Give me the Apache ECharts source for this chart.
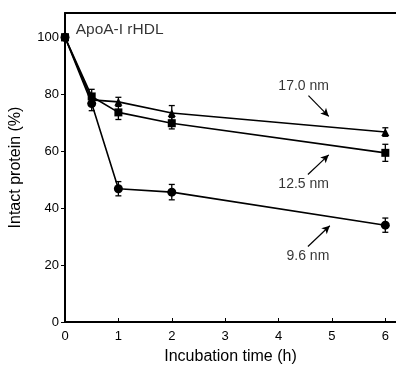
<!DOCTYPE html>
<html><head><meta charset="utf-8">
<script src="https://cdn.jsdelivr.net/npm/echarts@6/dist/echarts.min.js"></script>
<style>html,body{margin:0;padding:0;background:#fff}#c{width:396px;height:370px}</style>
</head><body><div id="c"></div>
<script>
const times = [0, 0.5, 1, 2, 6];
const nm96 = [100, 76.7, 46.8, 45.6, 34.0];
const nm96Err = [0, 2.5, 2.5, 2.7, 2.5];
const nm125 = [100, 79.2, 73.6, 69.8, 59.4];
const nm125Err = [0, 2.5, 2.5, 2.0, 3.0];
const nm170 = [100, 78.0, 77.3, 73.4, 66.7];
const nm170Err = [0, 2.0, 1.6, 2.6, 1.5];
const xTicks = [0, 1, 2, 3, 4, 5, 6];
const yTicks = [0, 20, 40, 60, 80, 100];
const labelTexts = ['17.0 nm', '12.5 nm', '9.6 nm'];
const labelPos = [[4.47, 82.9], [4.47, 48.3], [4.55, 23.1]];
const arrowFrom = [[4.56, 79.5], [4.55, 51.8], [4.55, 26.5]];
const arrowTo = [[4.94, 72.2], [4.94, 58.7], [4.96, 33.8]];
const titleText = 'ApoA-I rHDL';
const titlePos = [0.2, 102.6];

const FONT = '"Liberation Sans", Arial, sans-serif';
function pts(ys) { return times.map((t, i) => [t, ys[i]]); }
function errData(ys, es) { return times.map((t, i) => [t, ys[i] - es[i], ys[i] + es[i]]).filter((d, i) => es[i] > 0); }
function errSeries(ys, es) {
  return {
    type: 'custom', data: errData(ys, es), z: 3,
    renderItem: function (params, api) {
      const lo = api.coord([api.value(0), api.value(1)]);
      const hi = api.coord([api.value(0), api.value(2)]);
      const w = 3;
      const st = { stroke: '#000', lineWidth: 1.3 };
      return { type: 'group', children: [
        { type: 'line', shape: { x1: lo[0], y1: lo[1], x2: hi[0], y2: hi[1] }, style: st },
        { type: 'line', shape: { x1: lo[0] - w, y1: lo[1], x2: lo[0] + w, y2: lo[1] }, style: st },
        { type: 'line', shape: { x1: hi[0] - w, y1: hi[1], x2: hi[0] + w, y2: hi[1] }, style: st }
      ] };
    }
  };
}
function lineSeries(ys, sym, size) {
  return { type: 'line', data: pts(ys), symbol: sym, symbolSize: size, showSymbol: true,
    lineStyle: { color: '#000', width: 1.6 }, itemStyle: { color: '#000' }, z: 4, animation: false };
}
const chart = echarts.init(document.getElementById('c'), null, { renderer: 'canvas' });
const axisLab = { color: '#000', fontFamily: FONT, fontSize: 13 };
chart.setOption({
  animation: false,
  grid: { left: 63, right: 0, top: 13, bottom: 43, containLabel: false },
  xAxis: [{
    type: 'value', min: 0, max: 6.2, interval: 1,
    axisLine: { lineStyle: { color: '#000', width: 2 } },
    axisTick: { inside: true, length: 4, lineStyle: { color: '#000', width: 1 } },
    axisLabel: Object.assign({ margin: 8, showMaxLabel: false,
      formatter: v => xTicks.includes(v) ? String(v) : '' }, axisLab),
    splitLine: { show: false },
    name: 'Incubation time (h)', nameLocation: 'middle', nameGap: 27,
    nameTextStyle: { color: '#000', fontFamily: FONT, fontSize: 16 }
  }, {
    type: 'value', position: 'top', min: 0, max: 6.2,
    axisLine: { show: true, onZero: false, lineStyle: { color: '#000', width: 2 } },
    axisTick: { show: false }, axisLabel: { show: false }, splitLine: { show: false }
  }],
  yAxis: {
    type: 'value', min: 0, max: 108.5, interval: 20,
    axisLine: { show: true, lineStyle: { color: '#000', width: 2 } },
    axisTick: { inside: false, length: 4, lineStyle: { color: '#000', width: 1 } },
    axisLabel: Object.assign({ margin: 6, showMaxLabel: false,
      formatter: v => yTicks.includes(v) ? String(v) : '' }, axisLab),
    splitLine: { show: false },
    name: 'Intact protein (%)', nameLocation: 'middle', nameGap: 41,
    nameTextStyle: { color: '#000', fontFamily: FONT, fontSize: 16 }
  },
  series: [
    errSeries(nm96, nm96Err), errSeries(nm125, nm125Err), errSeries(nm170, nm170Err),
    lineSeries(nm170, 'triangle', 8),
    lineSeries(nm125, 'rect', 8),
    lineSeries(nm96, 'circle', 9),
    {
      type: 'scatter', symbolSize: 0, z: 5,
      data: labelTexts.map((t, i) => ({ value: labelPos[i], name: t })),
      label: { show: true, position: 'inside', formatter: p => p.name, color: '#000', fontFamily: FONT, fontSize: 14 },
      markLine: {
        silent: true, symbol: ['none', 'arrow'], symbolSize: [6, 8],
        lineStyle: { color: '#000', width: 1.2, type: 'solid' }, label: { show: false },
        data: arrowFrom.map((f, i) => [{ coord: f }, { coord: arrowTo[i] }])
      }
    },
    {
      type: 'scatter', symbolSize: 0, z: 5,
      data: [{ value: titlePos, name: titleText }],
      label: { show: true, position: 'right', distance: 0, formatter: p => p.name, color: '#000', fontFamily: FONT, fontSize: 15.5 }
    }
  ]
});
</script></body></html>
